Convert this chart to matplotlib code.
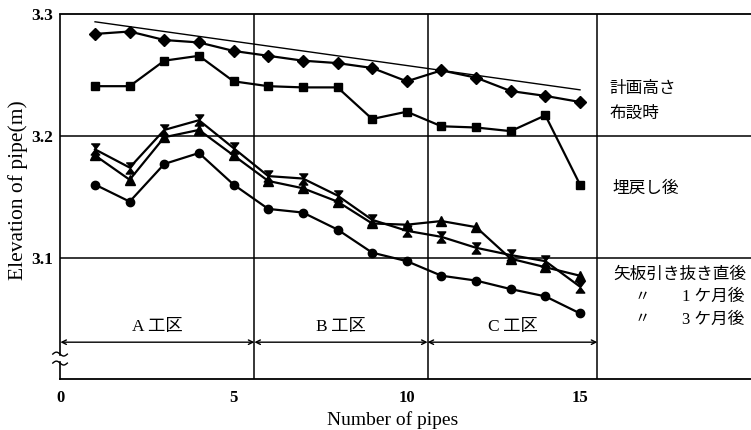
import numpy as np
import matplotlib
matplotlib.use("Agg")
import matplotlib.pyplot as plt

# ---- data ----
pipes = list(range(1, 16))
planned_x = [1, 15]
planned = [3.294, 3.238]
laying = [3.284, 3.286, 3.279, 3.277, 3.270, 3.266, 3.262, 3.260, 3.256, 3.245,
          3.254, 3.248, 3.237, 3.233, 3.228]
backfill = [3.241, 3.241, 3.262, 3.266, 3.245, 3.241, 3.240, 3.240, 3.214, 3.220,
            3.208, 3.207, 3.204, 3.217, 3.160]
after_pull = [3.184, 3.164, 3.199, 3.205, 3.184, 3.163, 3.157, 3.146, 3.128, 3.127,
              3.130, 3.125, 3.099, 3.092, 3.085]
month1 = [3.189, 3.174, 3.205, 3.213, 3.190, 3.167, 3.165, 3.151, 3.131, 3.122,
          3.117, 3.108, 3.102, 3.097, 3.076]
month3 = [3.160, 3.146, 3.177, 3.186, 3.160, 3.140, 3.137, 3.123, 3.104, 3.097,
          3.085, 3.081, 3.074, 3.068, 3.054]
section_bounds = [0, 5.6, 10.6, 15.5]
section_names = ["A工区", "B工区", "C工区"]
xticks = [0, 5, 10, 15]
yticks = [3.1, 3.2, 3.3]
series_labels = ["計画高さ", "布設時", "埋戻し後"]
series_label_y = [3.2385, 3.218, 3.1566]
later_labels = [("矢板引き抜き直後", ""), ("〃", "1 ケ月後"), ("〃", "3 ケ月後")]
later_label_y = [3.086, 3.0672, 3.049]

serif = ["Liberation Serif", "DejaVu Serif"]
jp = ["Liberation Serif", "Noto Sans CJK JP"]

fig = plt.figure(figsize=(7.51, 4.30), dpi=100)
W, H = 751, 430
x0, x1 = 60.4, 751
y_top, y_bot = 14.5, 379
ax = fig.add_axes([x0 / W, (H - y_bot) / H, (x1 - x0) / W, (y_bot - y_top) / H])
px_per_unit = 34.64
ax.set_xlim(0, (x1 - x0) / px_per_unit)
ax.set_ylim(3.0, 3.3)

# spines
ax.spines["right"].set_visible(False)
ax.spines["left"].set_visible(False)
for s in ["top", "bottom"]:
    ax.spines[s].set_linewidth(1.3)

# broken left axis
ax.plot([0, 0], [3.0197, 3.3], color="black", lw=1.2, clip_on=False, zorder=5)
ax.plot([0, 0], [3.0, 3.0139], color="black", lw=1.2, clip_on=False, zorder=5)
t = np.linspace(0, 1, 40)
for yb in [3.0205, 3.0131]:
    xs = -0.22 + 0.42 * t
    ys = yb + 0.0016 * np.sin(2 * np.pi * t)
    ax.plot(xs, ys, color="black", lw=1.0, clip_on=False, zorder=5)

# grid lines
for yv in [3.1, 3.2]:
    ax.axhline(yv, color="black", lw=1.1, zorder=1)
for xv in section_bounds[1:]:
    ax.axvline(xv, color="black", lw=1.1, zorder=1)

# ticks
ax.set_xticks(xticks)
ax.set_xticklabels([str(v) for v in xticks], fontfamily=serif, fontsize=12, fontweight="bold")
ax.set_yticks(yticks)
ax.set_yticklabels([f"{v:.1f}" for v in yticks], fontfamily=serif, fontsize=12.5, fontweight="bold")
ax.tick_params(axis="both", length=0)
ax.tick_params(axis="x", pad=8)
ax.tick_params(axis="y", pad=5)

# series
hourglass = [(-1, 1.3), (1, 1.3), (0, 0), (1, -1.3), (-1, -1.3), (0, 0)]
lw = 1.6
ax.plot(planned_x, planned, color="black", lw=1.0, zorder=3)
ax.plot(pipes, laying, color="black", lw=lw, marker="D", ms=6, zorder=4)
ax.plot(pipes, backfill, color="black", lw=lw, marker="s", ms=6, zorder=4)
ax.plot(pipes, after_pull, color="black", lw=lw, marker="^", ms=7, zorder=4)
ax.plot(pipes, month1, color="black", lw=lw, marker=hourglass, ms=8, zorder=4)
ax.plot(pipes, month3, color="black", lw=lw, marker="o", ms=6, zorder=4)

# section arrows & labels
for i, name in enumerate(section_names):
    a, b = section_bounds[i], section_bounds[i + 1]
    ax.annotate("", xy=(b, 3.0303), xytext=(a, 3.0303),
                arrowprops=dict(arrowstyle="<->", lw=1.0, color="black",
                                shrinkA=0, shrinkB=0, mutation_scale=8))
    ax.text((a + b) / 2, 3.043, name[0] + "\u2009" + name[1:], ha="center", va="center",
            fontsize=12.5, family=jp)

# right-side labels
for lab, yv in zip(series_labels, series_label_y):
    ax.text(15.85 if lab != "埋戻し後" else 15.95, yv, lab, ha="left", va="center",
            fontsize=12, family=jp)
for (a, b), yv in zip(later_labels, later_label_y):
    if b == "":
        ax.text(15.95, yv, a, ha="left", va="center", fontsize=12, family=jp)
    else:
        ax.text(16.8, yv, a, ha="center", va="center", fontsize=11, family=jp,
                style="italic")
        ax.text(19.75, yv, b, ha="right", va="center", fontsize=12, family=jp)

# axis labels
fig.text(18 / W, 1 - 190 / H, "Elevation of pipe(m)", rotation=90, ha="center",
         va="center", fontsize=15.5, family=serif)
fig.text(393 / W, 1 - 420 / H, "Number of pipes", ha="center", va="center",
         fontsize=14, family=serif)

fig.savefig("out.png", dpi=100)
